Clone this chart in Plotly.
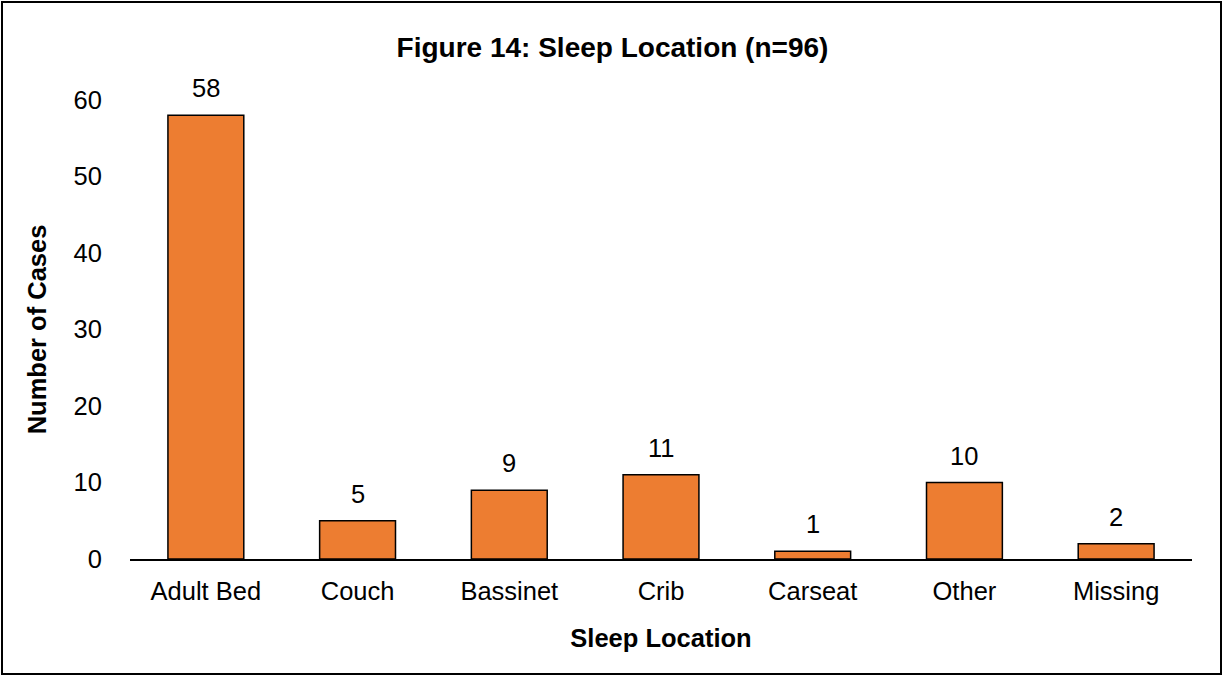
import plotly.graph_objects as go

categories = ["Adult Bed", "Couch", "Bassinet", "Crib", "Carseat", "Other", "Missing"]
values = [58, 5, 9, 11, 1, 10, 2]
y_ticks = [0, 10, 20, 30, 40, 50, 60]

FONT = "Liberation Sans, Arial, sans-serif"
FS = 25.5

fig = go.Figure(go.Bar(
    x=categories, y=values,
    marker=dict(color="#ED7D31", line=dict(color="#000000", width=1.5)),
    width=0.5,
    cliponaxis=False,
    hoverinfo="x+y",
))

for c, v in zip(categories, values):
    fig.add_annotation(x=c, y=v, text=str(v), showarrow=False, xanchor="center",
                       yanchor="bottom", yshift=11,
                       font=dict(family=FONT, size=FS, color="#000000"))

fig.update_layout(
    width=1225, height=676,
    paper_bgcolor="white", plot_bgcolor="white",
    margin=dict(l=130, r=33, t=100, b=117),
    title=dict(text="<b>Figure 14: Sleep Location (n=96)</b>", x=0.5, xanchor="center",
               y=1 - 47 / 676, yanchor="middle",
               font=dict(family=FONT, size=28, color="#000000")),
    font=dict(family=FONT, size=FS, color="#000000"),
    showlegend=False,
    shapes=[dict(type="rect", xref="paper", yref="paper",
                 x0=-128 / 1062, x1=1 + 29 / 1062, y0=-115 / 459, y1=1 + 98 / 459,
                 line=dict(color="#000000", width=2))],
)

fig.update_xaxes(
    showline=True, linecolor="#000000", linewidth=1.5,
    ticks="outside", ticklen=9, tickcolor="rgba(0,0,0,0)",
    tickfont=dict(family=FONT, size=FS, color="#000000"),
    title=dict(text="<b>Sleep Location</b>", font=dict(family=FONT, size=FS, color="#000000"), standoff=25),
    showgrid=False,
)
fig.update_yaxes(
    range=[0, 60], tickvals=y_ticks, showgrid=False, zeroline=False, showline=False,
    ticks="outside", ticklen=22, tickcolor="rgba(0,0,0,0)",
    tickfont=dict(family=FONT, size=FS, color="#000000"),
    title=dict(text="<b>Number of Cases</b>", font=dict(family=FONT, size=FS, color="#000000"), standoff=19),
)

fig.write_html("out.html", config={"displayModeBar": False},
               post_script="document.body.style.margin='0';")
